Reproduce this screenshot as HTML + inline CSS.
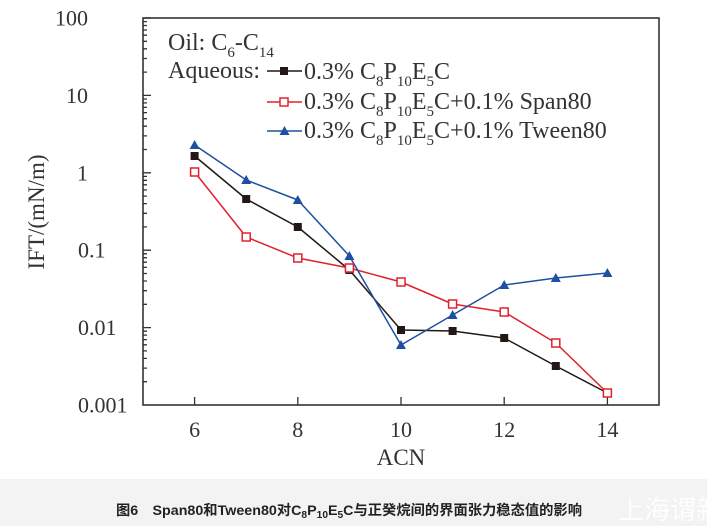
<!DOCTYPE html>
<html><head><meta charset="utf-8"><style>
html,body{margin:0;padding:0;background:#fff;}
svg{display:block;}
</style></head><body>
<svg width="707" height="526" viewBox="0 0 707 526" xmlns="http://www.w3.org/2000/svg">
<rect x="0" y="0" width="707" height="526" fill="#fff"/>
<rect x="0" y="479" width="707" height="47" fill="#f3f3f3"/>

<!-- frame -->
<rect x="143" y="18" width="516" height="387" fill="none" stroke="#333" stroke-width="1.6"/>

<!-- y ticks -->
<g stroke="#333" stroke-width="1.3" fill="none">
<path d="M143 18h8M143 95.4h8M143 172.8h8M143 250.2h8M143 327.6h8"/>
<path d="M143 381.7h4M143 368.1h4M143 358.4h4M143 350.9h4M143 344.8h4M143 339.6h4M143 335.1h4M143 331.2h4
M143 304.3h4M143 290.7h4M143 281h4M143 273.5h4M143 267.4h4M143 262.2h4M143 257.7h4M143 253.8h4
M143 226.9h4M143 213.3h4M143 203.6h4M143 196.1h4M143 190h4M143 184.8h4M143 180.3h4M143 176.4h4
M143 149.5h4M143 135.9h4M143 126.2h4M143 118.7h4M143 112.6h4M143 107.4h4M143 102.9h4M143 99h4
M143 72.1h4M143 58.5h4M143 48.8h4M143 41.3h4M143 35.2h4M143 30h4M143 25.5h4M143 21.6h4"/>
<!-- x ticks -->
<path d="M194.6 405v-8M297.8 405v-8M401 405v-8M504.2 405v-8M607.4 405v-8"/>
</g>

<!-- tick labels -->
<g font-family="'Liberation Serif', serif" font-size="22" fill="#333">
<text x="88" y="25.5" text-anchor="end">100</text>
<text x="88" y="103" text-anchor="end">10</text>
<text x="88" y="180.3" text-anchor="end">1</text>
<text x="78" y="257.7">0.1</text>
<text x="78" y="335.1">0.01</text>
<text x="78" y="412.5">0.001</text>
<text x="194.6" y="437" text-anchor="middle">6</text>
<text x="297.8" y="437" text-anchor="middle">8</text>
<text x="401" y="437" text-anchor="middle">10</text>
<text x="504.2" y="437" text-anchor="middle">12</text>
<text x="607.4" y="437" text-anchor="middle">14</text>
<text x="401" y="465" text-anchor="middle" font-size="23">ACN</text>
<text transform="translate(44,212) rotate(-90)" text-anchor="middle" font-size="23">IFT/(mN/m)</text>
</g>

<!-- series lines -->
<g fill="none" stroke-width="1.5" stroke-linejoin="round">
<polyline stroke="#231815" points="194.6,156 246.2,199 297.8,227 349.4,270 401,330 452.6,331 504.2,338 555.8,366 607.4,393"/>
<polyline stroke="#e0222e" points="194.6,172 246.2,237 297.8,258 349.4,268 401,282 452.6,304 504.2,312 555.8,343 607.4,393"/>
<polyline stroke="#1e50a2" points="194.6,145 246.2,180 297.8,200 349.4,256 401,345 452.6,315 504.2,285 555.8,278 607.4,273"/>
</g>
<!-- black markers -->
<g fill="#231815">
<rect x="190.6" y="152" width="8" height="8"/>
<rect x="242.2" y="195" width="8" height="8"/>
<rect x="293.8" y="223" width="8" height="8"/>
<rect x="345.4" y="266" width="8" height="8"/>
<rect x="397" y="326" width="8" height="8"/>
<rect x="448.6" y="327" width="8" height="8"/>
<rect x="500.2" y="334" width="8" height="8"/>
<rect x="551.8" y="362" width="8" height="8"/>
<rect x="603.4" y="389" width="8" height="8"/>
</g>
<!-- red markers -->
<g fill="#fff" stroke="#e0222e" stroke-width="1.5">
<rect x="190.6" y="168" width="8" height="8"/>
<rect x="242.2" y="233" width="8" height="8"/>
<rect x="293.8" y="254" width="8" height="8"/>
<rect x="345.4" y="264" width="8" height="8"/>
<rect x="397" y="278" width="8" height="8"/>
<rect x="448.6" y="300" width="8" height="8"/>
<rect x="500.2" y="308" width="8" height="8"/>
<rect x="551.8" y="339" width="8" height="8"/>
<rect x="603.4" y="389" width="8" height="8"/>
</g>
<!-- blue markers -->
<g fill="#1e50a2">
<polygon points="194.6,140 199.6,149 189.6,149"/>
<polygon points="246.2,175 251.2,184 241.2,184"/>
<polygon points="297.8,195 302.8,204 292.8,204"/>
<polygon points="349.4,251 354.4,260 344.4,260"/>
<polygon points="401,340 406,349 396,349"/>
<polygon points="452.6,310 457.6,319 447.6,319"/>
<polygon points="504.2,280 509.2,289 499.2,289"/>
<polygon points="555.8,273 560.8,282 550.8,282"/>
<polygon points="607.4,268 612.4,277 602.4,277"/>
</g>

<!-- legend -->
<g font-family="'Liberation Serif', serif" font-size="24" fill="#333">
<text x="168" y="50">Oil: C<tspan font-size="15" dy="7">6</tspan><tspan dy="-7">-C</tspan><tspan font-size="15" dy="7">14</tspan></text>
<text x="168" y="78">Aqueous:</text>
<text x="304" y="79">0.3% C<tspan font-size="15" dy="7">8</tspan><tspan dy="-7">P</tspan><tspan font-size="15" dy="7">10</tspan><tspan dy="-7">E</tspan><tspan font-size="15" dy="7">5</tspan><tspan dy="-7">C</tspan></text>
<text x="304" y="109">0.3% C<tspan font-size="15" dy="7">8</tspan><tspan dy="-7">P</tspan><tspan font-size="15" dy="7">10</tspan><tspan dy="-7">E</tspan><tspan font-size="15" dy="7">5</tspan><tspan dy="-7">C+0.1% Span80</tspan></text>
<text x="304" y="138">0.3% C<tspan font-size="15" dy="7">8</tspan><tspan dy="-7">P</tspan><tspan font-size="15" dy="7">10</tspan><tspan dy="-7">E</tspan><tspan font-size="15" dy="7">5</tspan><tspan dy="-7">C+0.1% Tween80</tspan></text>
</g>
<g stroke-width="1.5">
<line x1="267" y1="71" x2="302" y2="71" stroke="#231815"/>
<rect x="280" y="67" width="8" height="8" fill="#231815"/>
<line x1="267" y1="102" x2="302" y2="102" stroke="#e0222e"/>
<rect x="280" y="98" width="8" height="8" fill="#fff" stroke="#e0222e"/>
<line x1="267" y1="131" x2="302" y2="131" stroke="#1e50a2"/>
<polygon points="284.5,126 289.5,135 279.5,135" fill="#1e50a2"/>
</g>

<!-- caption -->
<text x="116" y="515" font-family="'Liberation Sans','Noto Sans CJK SC',sans-serif" font-size="14" font-weight="bold" fill="#222" textLength="466" lengthAdjust="spacingAndGlyphs">图6　Span80和Tween80对C<tspan font-size="10" dy="3">8</tspan><tspan dy="-3">P</tspan><tspan font-size="10" dy="3">10</tspan><tspan dy="-3">E</tspan><tspan font-size="10" dy="3">5</tspan><tspan dy="-3">C与正癸烷间的界面张力稳态值的影响</tspan></text>
<text x="618" y="519" font-family="'Noto Sans CJK SC',sans-serif" font-size="26" fill="#ffffff" opacity="0.95">上海谓新</text>
</svg>
</body></html>
